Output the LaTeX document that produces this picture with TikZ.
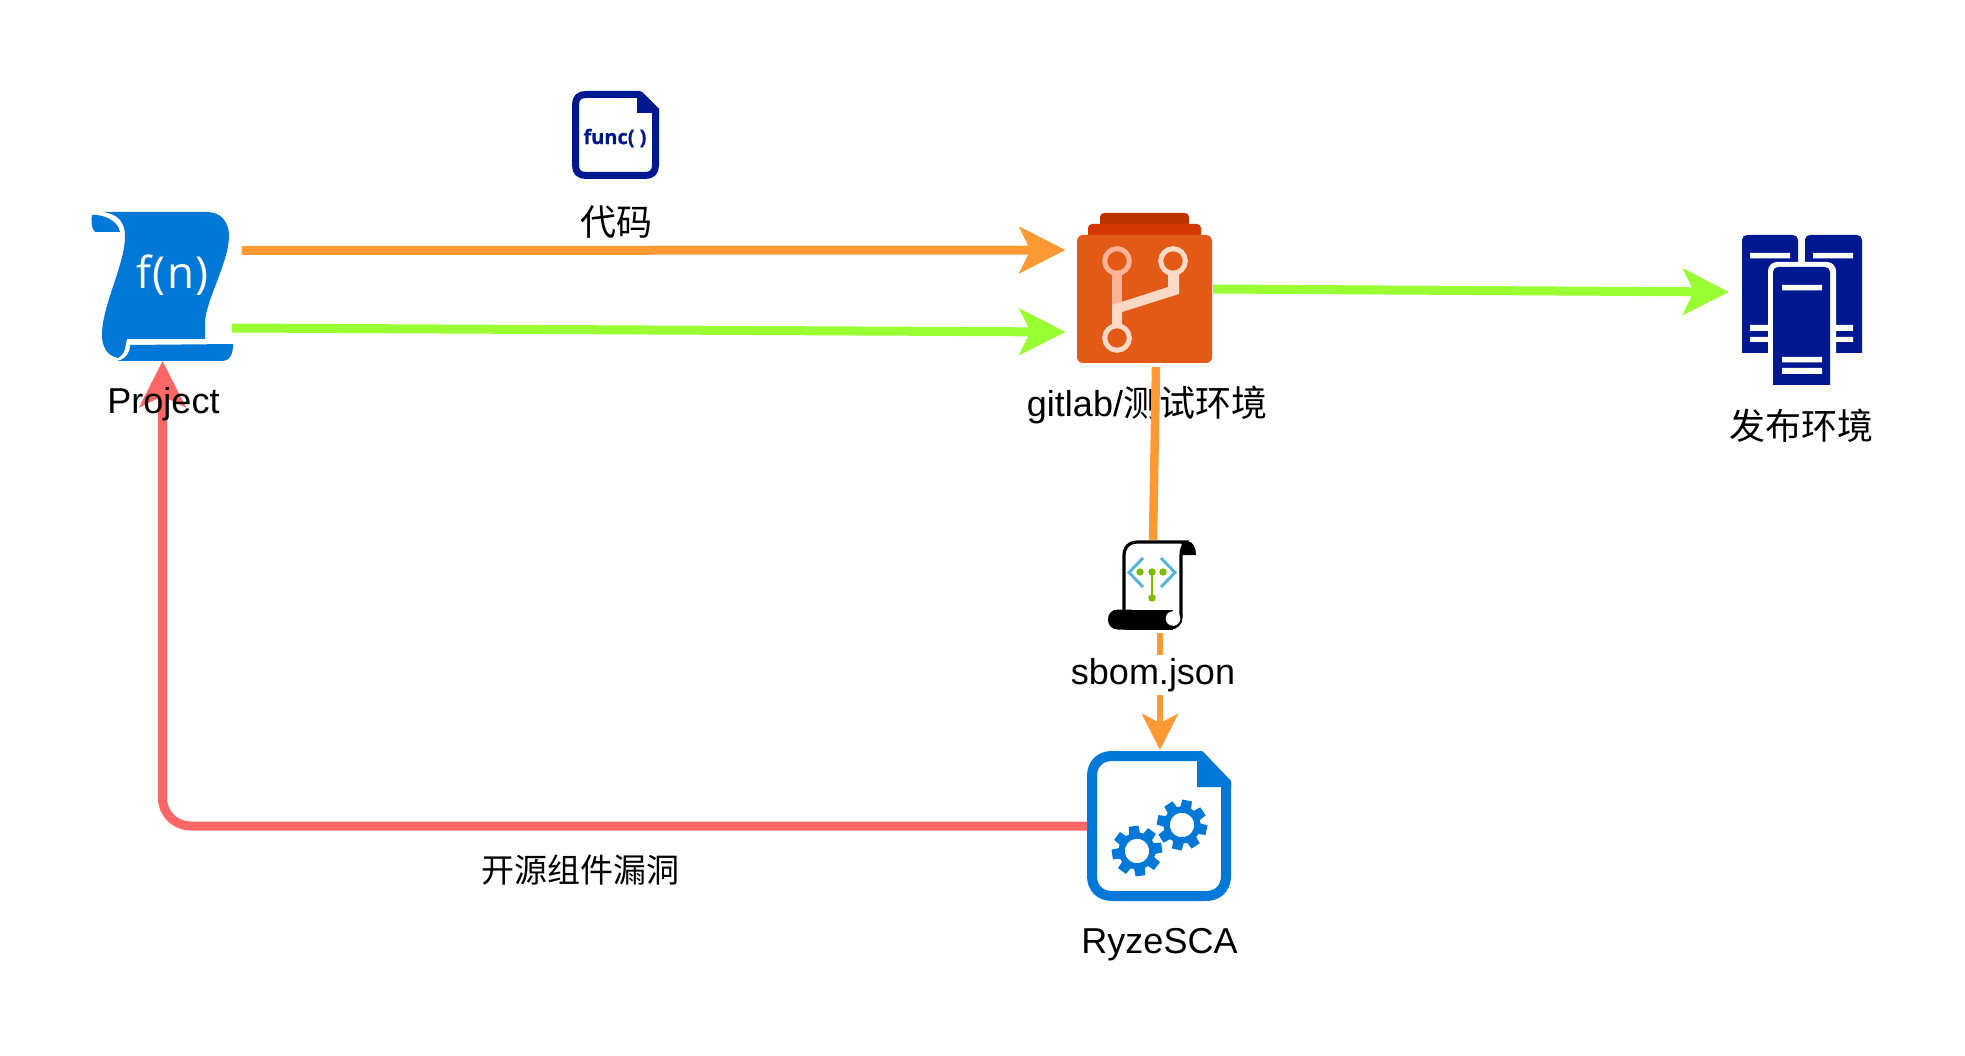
\documentclass[tikz,border=0pt]{standalone}
\usepackage{fontspec}
\usetikzlibrary{arrows.meta}
\setmainfont{Liberation Sans}
\newfontfamily\cjkfont{Noto Sans CJK SC}
\newfontfamily\funcfont[BoldFeatures={FakeBold=0.6}]{Open Sans}
\newfontfamily\fnfont[LetterSpace=3]{Open Sans}
\definecolor{azblue}{HTML}{0078D7}
\definecolor{navyblue}{HTML}{00188F}
\definecolor{flowor}{HTML}{FF9933}
\definecolor{flowgr}{HTML}{99FF33}
\definecolor{flowrd}{HTML}{FF6666}
\definecolor{gitdark}{RGB}{188,51,0}
\definecolor{gitmid}{RGB}{212,55,0}
\definecolor{gitmain}{RGB}{227,90,22}
\definecolor{gitsoft}{RGB}{255,178,150}
\definecolor{gitpale}{RGB}{255,217,200}
\definecolor{sbomblue}{RGB}{89,180,217}
\definecolor{sbomgreen}{RGB}{127,186,0}
\newcommand{\gearat}[3]{%
  \begin{scope}[shift={(#1,#2)},rotate=#3]
    \fill[azblue,even odd rule] (-17:18.5)
      foreach \a in {0,45,...,315} {-- (\a-11:25.5) -- (\a+11:25.5) -- (\a+17:18.5) -- (\a+28:18.5)}
      -- cycle (0,0) circle (12.3);
  \end{scope}}
\tikzset{
  iconbox/.style={inner sep=0pt,outer sep=0pt,draw=none,fill=none},
  lat/.style={font=\fontsize{36}{36}\selectfont,inner sep=1pt,text=black},
  flowline/.style={line width=9pt,-{Stealth[length=46pt,width=46pt,inset=11pt]}},
  plainline/.style={line width=8.5pt},
}
\begin{document}
\begin{tikzpicture}[x=1pt,y=-1pt]
\useasboundingbox (0,0) rectangle (1965,1056);
\fill[white] (0,0) rectangle (1965,1056);

% ---- icon boxes
\node[iconbox,minimum width=141pt,minimum height=150pt] (fn) at (162.5,286) {};
\node[iconbox,minimum width=87pt,minimum height=88pt] (func) at (615.5,135) {};
\node[iconbox,minimum width=135pt,minimum height=150pt] (git) at (1144.5,288) {};
\node[iconbox,minimum width=120pt,minimum height=150pt] (srv) at (1802,310) {};
\node[iconbox,minimum width=88pt,minimum height=87pt] (sbom) at (1152,585.5) {};
\node[iconbox,minimum width=144pt,minimum height=150pt] (sca) at (1159,826) {};

% ---- Function scroll
\fill[azblue] (103,212) -- (207,212) .. controls (221,212) and (229,222) .. (229,236)
  .. controls (229,262) and (205,302) .. (205,323) -- (205,339) -- (127,339)
  .. controls (125,343) and (127,353) .. (118,358)
  .. controls (108,356) and (102,348) .. (102,335)
  .. controls (102,305) and (125,265) .. (125,236)
  .. controls (125,222) and (118,214) .. (103,212) -- cycle;
\fill[azblue] (92,215) .. controls (102,214) and (118,220) .. (120,232) -- (95,232)
  .. controls (91,228) and (91,220) .. (92,215) -- cycle;
\fill[azblue] (130,345) -- (233,344) .. controls (233,353) and (231,361) .. (221,361)
  -- (117,361) .. controls (126,359) and (130,353) .. (130,345) -- cycle;
\node[inner sep=0pt,text=white,font=\fnfont\fontsize{44}{44}\selectfont] at (172.5,275) {f(n)};

% ---- func() document
\draw[navyblue,line width=7pt,line join=round,fill=white]
  (575.5,105) .. controls (575.5,98) and (579,94.5) .. (586,94.5) -- (639.5,94.5)
  -- (655.5,110.5) -- (655.5,165) .. controls (655.5,172) and (652,175.5) .. (645,175.5)
  -- (586,175.5) .. controls (579,175.5) and (575.5,172) .. (575.5,165) -- cycle;
\fill[navyblue] (637,92) -- (642,92) -- (659,109) -- (659,113) -- (637,113) -- cycle;
\node[inner sep=0pt,text=navyblue,font=\funcfont\bfseries\fontsize{20}{20}\selectfont] at (615,138) {func( )};

% ---- Git icon
\fill[gitdark,rounded corners=4pt] (1100,230) -- (1100,213) -- (1189,213) -- (1189,230) -- cycle;
\fill[gitmid,rounded corners=4pt] (1088,240) -- (1088,224) -- (1201,224) -- (1201,240) -- cycle;
\fill[gitmain,rounded corners=6pt] (1077,235) rectangle (1212,363);
\fill[gitsoft] (1112,272) rectangle (1122,306);
\fill[gitpale] (1112,305) -- (1168,287) -- (1168,274) -- (1179,274) -- (1179,294) -- (1122,312) -- (1122,325) -- (1112,325) -- cycle;
\draw[line width=5pt,gitsoft] (1117,261) circle (12.3);
\draw[line width=5pt,gitpale] (1173,261) circle (12.3);
\draw[line width=5pt,gitpale] (1117,338) circle (12.3);

% ---- Servers
\fill[navyblue,rounded corners=5pt] (1742,360) -- (1742,235) -- (1798,235) -- (1798,360) -- cycle;
\fill[navyblue,rounded corners=5pt] (1805,360) -- (1805,235) -- (1862,235) -- (1862,360) -- cycle;
\fill[white] (1740,353) rectangle (1864,362);
\fill[white] (1750,253) rectangle (1790,258.5) (1813,253) rectangle (1853,258.5);
\fill[white] (1750,325) rectangle (1770,331) (1750,337) rectangle (1770,342);
\fill[white] (1834,325) rectangle (1853,331) (1834,337) rectangle (1853,342);
\fill[white,rounded corners=9pt] (1768,395) -- (1768,262) -- (1836,262) -- (1836,395) -- cycle;
\fill[navyblue,rounded corners=5pt] (1773,392) -- (1773,267) -- (1830,267) -- (1830,392) -- cycle;
\fill[white] (1770,385) rectangle (1834,394);
\fill[white] (1782,285) rectangle (1822,290.5) (1782,357) rectangle (1822,362.5) (1782,368) rectangle (1822,374);

% ---- SBOM scroll
\draw[black,line width=3.2pt,fill=white] (1124,612) -- (1124,556) .. controls (1124,547) and (1129,542) .. (1138,542)
  -- (1186,542) .. controls (1183,545) and (1181,549) .. (1181,556) -- (1181,617)
  .. controls (1181,624) and (1176,628) .. (1170,628) -- (1130,628);
\fill[black] (1180,541) -- (1187,541) .. controls (1193,541) and (1196,548) .. (1196,555) -- (1182,555)
  .. controls (1182,549) and (1183,545) .. (1180,541) -- cycle;
\fill[black,rounded corners=9.5pt] (1140,609.5) -- (1108,609.5) -- (1108,629.5) -- (1140,629.5) -- cycle;
\fill[black] (1125,609.5) -- (1173,609.5) -- (1173,629.5) -- (1125,629.5) -- cycle;
\fill[white] (1173,618.5) circle (7.3);
\draw[line width=3pt,sbomblue] (1143,558) -- (1129,572.5) -- (1143,587);
\draw[line width=3pt,sbomblue] (1161,558) -- (1175,572.5) -- (1161,587);
\draw[line width=2pt,sbomgreen] (1152,572) -- (1152,598);
\fill[sbomgreen] (1140,572) circle (3.7) (1152,572) circle (3.7) (1163,572) circle (3.7) (1152,598) circle (3.7);

% ---- RyzeSCA document
\draw[azblue,line width=10pt,line join=round,fill=white]
  (1092,776) .. controls (1092,764) and (1100,756) .. (1112,756) -- (1200,756)
  -- (1226,783) -- (1226,876) .. controls (1226,888) and (1218,896) .. (1206,896)
  -- (1112,896) .. controls (1100,896) and (1092,888) .. (1092,876) -- cycle;
\fill[azblue] (1197,751) -- (1202,751) -- (1231,781) -- (1231,787) -- (1197,787) -- cycle;
\gearat{1137}{851}{8}
\gearat{1182}{825}{-12}

% ---- text under the connectors
\node[lat] (gitlabel) at (1147,405) {gitlab/{\cjkfont 测试环境}};

% ---- connectors
\draw[flowline,flowor] ([shift={(79,-35.5)}]fn.center) -- ([shift={(-11.5,-38)}]git.west);
\draw[flowline,flowgr] ([shift={(69.5,42)}]fn.center) -- ([shift={(-11.5,44)}]git.west);
\draw[flowline,flowgr] ([shift={(1,1)}]git.east) -- ([shift={(-13,-18)}]srv.west);
\draw[plainline,flowor] ([shift={(11.5,4)}]git.south) -- ([shift={(1,-2)}]sbom.north);
\draw[flowline,flowor,line width=6.5pt,-{Stealth[length=36pt,width=36pt,inset=9pt]}] ([shift={(8,4)}]sbom.south) -- ([shift={(1,-1)}]sca.north);
\draw[flowline,flowrd,rounded corners=28pt] (sca.west) -- (sca.west -| fn.south) -- (fn.south);

% ---- labels
\node[lat] (fnlabel) at (163.5,404) {Project};
\node[lat] (funclabel) at (616,222) {\cjkfont 代码};
\node[lat] (srvlabel) at (1801,426) {\cjkfont 发布环境};
\node[lat,fill=white,inner sep=3pt] (sblabel) at (1153,675) {sbom.json};
\node[lat] (scalabel) at (1159.5,944.5) {RyzeSCA};
\node[inner sep=1pt,text=black,font=\cjkfont\fontsize{33}{33}\selectfont] (vulnlabel) at (580.5,870) {开源组件漏洞};
\end{tikzpicture}
\end{document}
